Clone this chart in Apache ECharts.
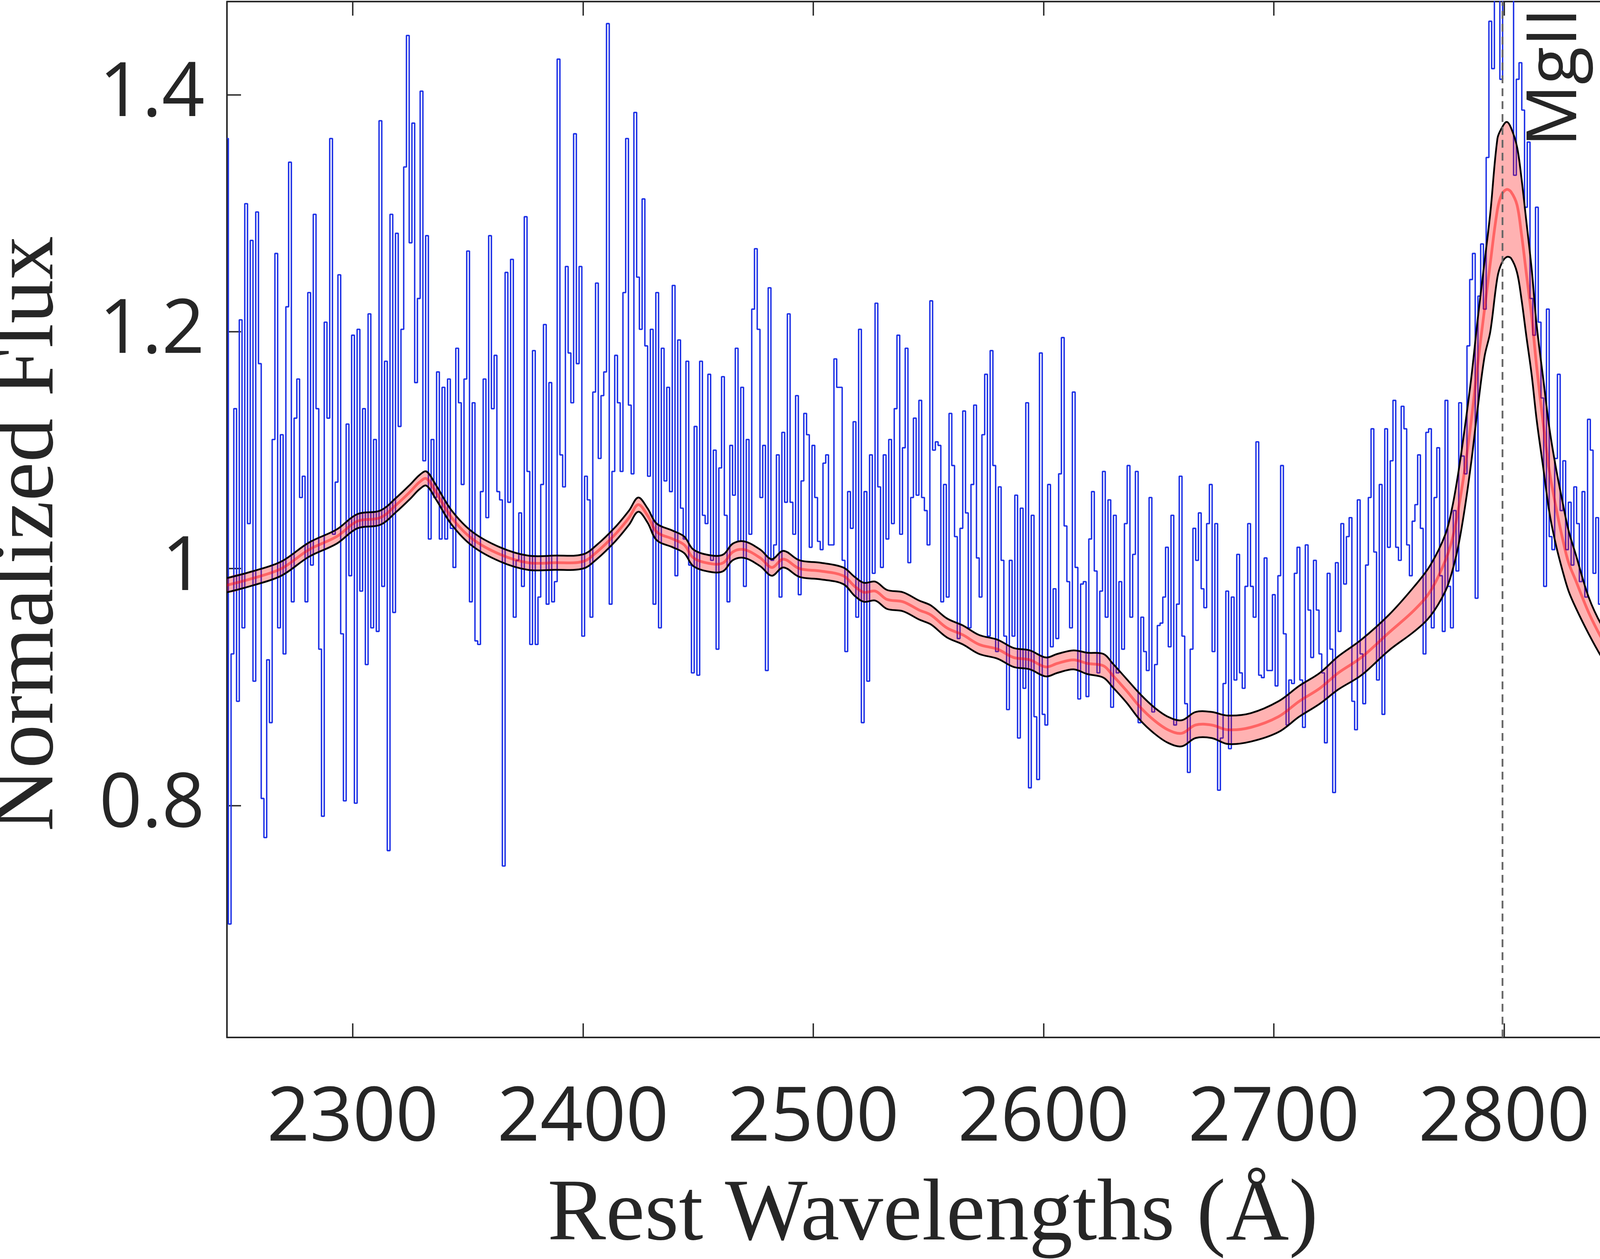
<!DOCTYPE html>
<html>
<head>
<meta charset="utf-8">
<script src="https://cdn.jsdelivr.net/npm/echarts@6/dist/echarts.min.js"></script>
<style>
html, body { margin: 0; padding: 0; background: #fff; }
#chart { width: 4201px; height: 3222px; }
</style>
</head>
<body>
<div id="chart"></div>
<script>
// observed spectrum, regular grid in rest wavelength
const waveStart = 2245.4;
const waveStep = 1.19;
const flux = [
  1.363, 0.700, 0.928, 1.135, 0.888, 1.210, 0.950, 1.308, 1.038, 1.277,
  0.905, 1.301, 1.173, 0.806, 0.773, 0.923, 0.870, 1.109, 1.266, 0.950,
  1.113, 0.928, 1.221, 1.343, 0.972, 1.127, 1.160, 1.060, 1.078, 0.972,
  1.233, 1.003, 1.299, 1.135, 0.932, 0.791, 1.208, 1.127, 1.363, 1.029,
  1.073, 1.248, 0.945, 0.804, 1.122, 0.994, 1.197, 0.802, 1.202, 0.981,
  1.135, 0.919, 1.215, 0.950, 1.109, 0.947, 1.378, 0.985, 1.175, 0.762,
  1.299, 0.963, 1.283, 1.120, 1.202, 1.339, 1.450, 1.275, 1.376, 1.157,
  1.228, 1.403, 1.091, 1.281, 1.025, 1.109, 1.060, 1.166, 1.025, 1.153,
  1.025, 1.160, 1.034, 1.001, 1.186, 1.140, 1.071, 1.160, 1.268, 0.972,
  1.140, 0.939, 0.936, 1.065, 1.160, 1.043, 1.281, 1.135, 1.180, 1.065,
  1.058, 0.749, 1.250, 1.056, 1.261, 0.959, 1.007, 1.047, 0.985, 1.297,
  1.082, 0.936, 1.184, 0.936, 0.976, 1.071, 1.206, 0.970, 1.157, 0.972,
  0.989, 1.430, 1.096, 1.069, 1.255, 1.182, 1.140, 1.367, 1.173, 1.255,
  0.943, 1.078, 1.058, 0.959, 1.149, 1.241, 1.093, 1.146, 1.166, 1.460,
  0.970, 1.082, 1.180, 1.140, 1.082, 1.233, 1.363, 1.138, 1.080, 1.385,
  1.246, 1.202, 1.312, 1.188, 1.078, 1.202, 0.970,
  1.233, 0.950, 1.186, 1.074, 1.153, 1.065, 1.239, 0.994, 1.193, 1.051,
  1.025, 1.175, 1.003, 0.912, 1.120, 0.910, 1.175, 1.045, 1.038, 1.164,
  1.007, 1.100, 0.932, 1.085, 1.162, 1.045, 0.972, 1.104, 1.062, 1.186,
  1.023, 1.153, 0.985, 1.109, 1.029, 1.219, 1.270, 1.202, 1.060, 1.104,
  0.914, 1.237, 1.007, 1.020, 1.096, 0.976, 1.115, 1.056, 1.215, 1.056,
  1.029, 1.146, 0.978, 1.074, 1.131, 1.113, 1.018, 1.104, 1.060, 1.023,
  1.016, 1.089, 1.096, 1.020, 1.020, 1.177, 1.153, 1.153, 1.007, 0.930,
  1.065, 1.034, 1.124, 0.959, 1.202, 0.870, 1.065, 0.905, 1.096, 0.996,
  1.224, 1.069, 1.001, 1.096, 1.025, 1.109, 1.038, 1.135, 1.197, 1.029,
  1.102, 1.186, 1.005, 1.060, 1.127, 1.062, 1.142, 1.060, 1.049, 1.020,
  1.226, 1.100, 1.107, 1.104, 0.972, 1.071, 0.976, 1.131, 1.087, 1.027,
  0.941, 1.034, 1.133, 1.047, 0.950, 1.071, 1.138, 1.009, 0.976, 1.113,
  1.164, 0.943, 1.184, 1.087, 0.930, 1.069, 1.007, 0.943, 0.881, 1.007,
  0.943, 1.062, 0.857, 1.051, 0.899, 1.140, 0.815, 1.045, 0.875, 0.822,
  1.182, 0.877, 0.868, 1.071, 0.934, 0.983, 0.941, 1.080, 1.195, 1.036,
  0.989, 0.950, 1.149, 1.001, 0.890, 0.987, 0.989,
  0.892, 1.025, 1.065, 0.998, 0.912, 0.981, 1.082, 0.959, 1.058, 0.883,
  1.045, 0.912, 0.989, 0.932, 1.038, 1.087, 0.959, 1.012, 1.082, 0.870,
  0.959, 0.930, 0.914, 1.060, 0.879, 0.919, 0.952, 0.954, 0.976, 1.018,
  0.934, 1.045, 0.868, 0.970, 1.078, 0.943, 0.886, 0.828, 0.932, 1.034,
  1.007, 1.047, 0.983, 0.967, 1.038, 1.071, 0.930, 1.038, 0.813, 0.857,
  0.903, 0.981, 0.848, 0.976, 0.906, 1.012, 0.912, 0.899, 0.985, 1.038,
  0.985, 0.959, 1.107, 0.910, 0.908, 1.009, 0.914, 0.914, 0.978, 0.901,
  0.994, 1.087, 0.945, 0.868, 0.906, 0.903, 0.996, 1.018, 0.906, 0.866,
  1.020, 0.965, 0.925, 1.007, 0.965, 0.928, 0.912, 0.853, 0.996, 0.932,
  0.811, 1.005, 0.947, 1.038, 0.987, 1.027, 1.043, 0.888, 0.864, 1.058,
  0.928, 0.886, 1.003, 1.060, 1.118, 1.014, 0.906, 1.071, 0.877, 1.118,
  1.018, 1.091, 1.142, 1.018, 1.007, 1.137, 1.118, 1.020, 0.994, 1.040,
  1.054, 1.096, 1.034, 0.928, 1.115, 1.118, 0.950, 1.060, 1.102, 0.994,
  0.947,
  1.142, 0.985, 0.950, 1.049, 0.998, 1.140, 1.095, 1.080, 1.188, 1.244,
  1.266, 0.975, 1.230, 1.274, 1.219, 1.347, 1.462, 1.422, 1.520, 1.520,
  1.413, 1.530, 1.560, 1.580, 1.550, 1.332, 1.413, 1.427, 1.387, 1.305,
  1.360, 1.228, 1.197, 1.305, 1.208, 1.144, 0.985, 1.219, 1.027, 1.016,
  1.093, 1.164, 1.049, 1.091, 1.016, 1.056, 1.003, 1.069, 1.038, 0.989,
  1.065, 0.976, 1.126, 1.100, 0.996, 1.043, 0.970, 0.985, 1.082, 1.009,
  1.051, 1.016, 0.961
];

// model fit: median and band limits
const modelWave = [
  2245.4, 2257, 2269, 2281, 2293, 2302, 2312, 2319, 2325, 2329, 2332, 2336, 2343, 2352, 2364,
  2376, 2388, 2400, 2406, 2414, 2420, 2424, 2428, 2432, 2439, 2444, 2448, 2456, 2461, 2465,
  2470, 2477, 2482, 2487, 2494, 2503, 2513, 2518, 2522, 2527, 2532, 2539, 2546, 2551, 2558,
  2565, 2572, 2580, 2587, 2594, 2601, 2606, 2613, 2619, 2626, 2630, 2636, 2642, 2648, 2654,
  2660, 2666, 2673, 2680, 2690, 2702, 2711, 2720, 2728, 2738, 2750, 2761, 2768, 2774.5, 2777.5,
  2780.2, 2783, 2785.8, 2788.5, 2791.5, 2794, 2797.1, 2799, 2801.1, 2803, 2805.6, 2807.5, 2809.6, 2812, 2814.1,
  2817, 2819.7, 2822.5, 2825.4, 2828, 2831.1, 2836.7, 2842.4, 2848.6
];
const modelMid = [
  0.986, 0.992, 1.000, 1.016, 1.027, 1.040, 1.043, 1.054, 1.065, 1.073, 1.076, 1.065, 1.043, 1.025, 1.012,
  1.005, 1.005, 1.006, 1.014, 1.029, 1.043, 1.054, 1.045, 1.031, 1.025, 1.020, 1.009, 1.004, 1.005, 1.014,
  1.016, 1.009, 1.001, 1.008, 1.000, 0.998, 0.994, 0.985, 0.980, 0.981, 0.974, 0.972, 0.965, 0.961, 0.950,
  0.944, 0.936, 0.932, 0.925, 0.923, 0.917, 0.920, 0.923, 0.920, 0.918, 0.910, 0.897, 0.883, 0.872, 0.864,
  0.861, 0.868, 0.868, 0.864, 0.866, 0.875, 0.888, 0.899, 0.912, 0.925, 0.946, 0.965, 0.981, 1.007, 1.025,
  1.051, 1.085, 1.126, 1.172, 1.219, 1.258, 1.303, 1.316, 1.320, 1.318, 1.307, 1.283, 1.250, 1.212, 1.171,
  1.122, 1.082, 1.052, 1.025, 1.005, 0.990, 0.963, 0.941, 0.921
];
const modelHi = [
  0.992, 0.998, 1.006, 1.022, 1.033, 1.046, 1.049, 1.060, 1.071, 1.079, 1.082, 1.071, 1.049, 1.031, 1.018,
  1.011, 1.011, 1.012, 1.020, 1.035, 1.049, 1.060, 1.051, 1.038, 1.032, 1.027, 1.016, 1.011, 1.012, 1.021,
  1.023, 1.016, 1.008, 1.015, 1.007, 1.005, 1.001, 0.993, 0.988, 0.989, 0.982, 0.980, 0.973, 0.969, 0.958,
  0.952, 0.944, 0.940, 0.933, 0.931, 0.925, 0.928, 0.931, 0.929, 0.928, 0.920, 0.907, 0.894, 0.883, 0.875,
  0.872, 0.879, 0.879, 0.876, 0.878, 0.888, 0.901, 0.912, 0.926, 0.940, 0.961, 0.985, 1.003, 1.029, 1.052,
  1.082, 1.120, 1.162, 1.210, 1.259, 1.300, 1.363, 1.372, 1.377, 1.372, 1.356, 1.330, 1.294, 1.252, 1.206,
  1.160, 1.118, 1.085, 1.056, 1.032, 1.012, 0.976, 0.952, 0.934
];
const modelLo = [
  0.980, 0.986, 0.994, 1.010, 1.021, 1.034, 1.037, 1.048, 1.059, 1.067, 1.070, 1.059, 1.037, 1.019, 1.006,
  0.999, 0.999, 1.000, 1.008, 1.023, 1.037, 1.048, 1.039, 1.024, 1.018, 1.013, 1.002, 0.997, 0.998, 1.007,
  1.009, 1.002, 0.994, 1.001, 0.993, 0.991, 0.987, 0.977, 0.972, 0.973, 0.966, 0.964, 0.957, 0.953, 0.942,
  0.936, 0.928, 0.924, 0.917, 0.915, 0.909, 0.912, 0.915, 0.911, 0.908, 0.900, 0.887, 0.872, 0.861, 0.853,
  0.850, 0.857, 0.857, 0.852, 0.854, 0.862, 0.875, 0.886, 0.898, 0.910, 0.931, 0.947, 0.960, 0.981, 0.998,
  1.020, 1.052, 1.091, 1.135, 1.179, 1.200, 1.246, 1.258, 1.263, 1.262, 1.250, 1.228, 1.197, 1.163, 1.126,
  1.085, 1.047, 1.020, 0.998, 0.981, 0.967, 0.945, 0.925, 0.906
];

const xTicks = [2300, 2400, 2500, 2600, 2700, 2800];
const yTicks = [0.8, 1.0, 1.2, 1.4];
const xRange = [2245.4, 2858.6];
const yRange = [0.6043, 1.4786];
const lineWave = 2799.3;
const lineName = 'MgII';

const axisColor = '#262626';
const curveSmooth = 0.35;
const chart = echarts.init(document.getElementById('chart'), null, { renderer: 'canvas' });

const specData = flux.map((f, i) => [waveStart + i * waveStep, f]);

function xAxisBase(pos) {
    return {
        type: 'value', position: pos, min: xRange[0], max: xRange[1],
        axisLine: { show: true, onZero: false, lineStyle: { color: axisColor, width: 4 } },
        axisTick: { show: true, inside: true, length: 36, customValues: xTicks,
            lineStyle: { color: axisColor, width: 3.5 } },
        axisLabel: { show: pos === 'bottom', customValues: xTicks, margin: 113,
            fontFamily: 'Open Sans', fontSize: 192, color: axisColor,
            formatter: v => String(Math.round(v)) },
        splitLine: { show: false }
    };
}

function yAxisBase(pos) {
    return {
        type: 'value', position: pos, min: yRange[0], max: yRange[1],
        axisLine: { show: true, onZero: false, lineStyle: { color: axisColor, width: 4 } },
        axisTick: { show: true, inside: true, length: 36, customValues: yTicks,
            lineStyle: { color: axisColor, width: 3.5 } },
        axisLabel: { show: pos === 'left', customValues: yTicks, margin: 57,
            fontFamily: 'Open Sans', fontSize: 192, color: axisColor,
            formatter: v => String(Math.round(v * 10) / 10) },
        splitLine: { show: false }
    };
}

// band: smoothed fill, black smoothed edges, closing edge at the right end, red median
function renderBand(params, api) {
    const n = modelWave.length;
    const hi = [], lo = [], mid = [];
    for (let i = 0; i < n; i++) {
        hi.push(api.coord([modelWave[i], modelHi[i]]));
        lo.push(api.coord([modelWave[i], modelLo[i]]));
        mid.push(api.coord([modelWave[i], modelMid[i]]));
    }
    const edge = { fill: null, stroke: '#000', lineWidth: 4.5, lineJoin: 'round' };
    return {
        type: 'group',
        children: [
            { type: 'polygon', shape: { points: hi.concat(lo.slice().reverse()), smooth: curveSmooth },
              style: { fill: 'rgba(255,0,0,0.3)', stroke: null } },
            { type: 'polyline', shape: { points: mid, smooth: curveSmooth },
              style: { fill: null, stroke: 'rgba(255,0,0,0.44)', lineWidth: 7 } },
            { type: 'polyline', shape: { points: hi, smooth: curveSmooth }, style: edge },
            { type: 'polyline', shape: { points: lo, smooth: curveSmooth }, style: edge },
            { type: 'polyline', shape: { points: [hi[n - 1], lo[n - 1]] }, style: edge }
        ]
    };
}

const option = {
    animation: false,
    backgroundColor: '#fff',
    grid: { left: 581, right: 5, top: 4, bottom: 567, containLabel: false, outerBoundsMode: 'none' },
    xAxis: [xAxisBase('bottom'), xAxisBase('top')],
    yAxis: [yAxisBase('left'), yAxisBase('right')],
    series: [
        {
            name: 'spectrum', type: 'line', step: 'middle', symbol: 'none',
            data: specData, clip: true, z: 2,
            lineStyle: { color: '#1c30e6', width: 3.6 }
        },
        {
            name: 'model', type: 'custom', z: 3, clip: true,
            data: [[modelWave[0], modelMid[0]]],
            renderItem: renderBand
        },
        {
            name: lineName, type: 'line', symbol: 'none', z: 5,
            data: [[lineWave, yRange[0]], [lineWave, yRange[1]]],
            lineStyle: { color: '#666666', width: 4.5, type: [20, 13] }
        }
    ],
    graphic: [
        {
            type: 'text', x: 2388, y: 3113,
            style: { text: 'Rest Wavelengths (Å)', fontFamily: 'Liberation Serif', fontSize: 224,
                fill: axisColor, align: 'center', verticalAlign: 'middle' }
        },
        {
            type: 'text', x: 75, y: 1366, rotation: Math.PI / 2,
            style: { text: 'Normalized Flux', fontFamily: 'Liberation Serif', fontSize: 224,
                fill: axisColor, align: 'center', verticalAlign: 'middle' }
        },
        {
            type: 'text', x: 3984, y: 198, rotation: Math.PI / 2,
            style: { text: lineName, fontFamily: 'Open Sans', fontSize: 178,
                fill: axisColor, align: 'center', verticalAlign: 'middle' }
        }
    ]
};

chart.setOption(option);
</script>
</body>
</html>
